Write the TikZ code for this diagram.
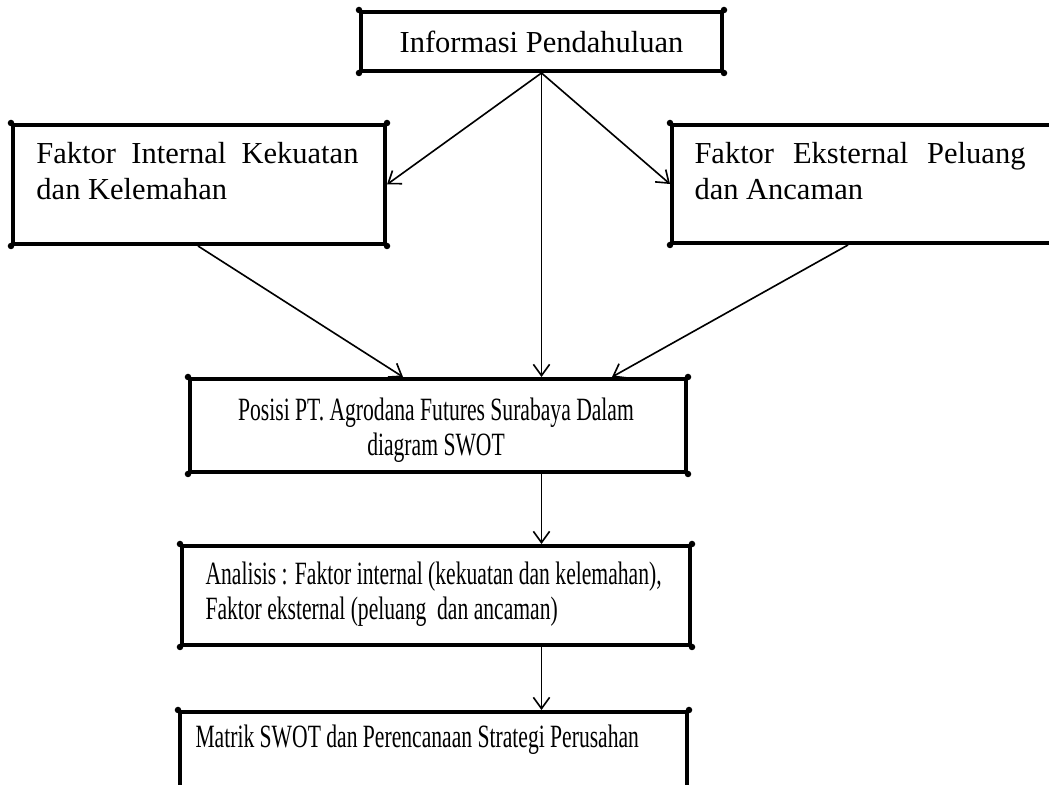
\documentclass[tikz,border=0pt]{standalone}
\usepackage{fontspec}
\setmainfont{Liberation Serif}
\newfontfamily\narrowfont[FakeStretch=0.665]{Liberation Serif}
\usetikzlibrary{arrows.meta}
\begin{document}
\begin{tikzpicture}[x=0.4pt,y=-0.4pt,
    box/.style={draw, line width=1.6pt, inner sep=0pt},
    txt/.style={inner sep=0pt, font=\fontsize{12.2}{14.5}\selectfont},
    narrow/.style={inner sep=0pt, font=\narrowfont\fontsize{13}{14}\selectfont},
    flow/.style={line width=0.65pt, -{Straight Barb[length=4.5pt,width=6.5pt]}}]
     \useasboundingbox (0,0) rectangle (1049,785);
     \clip (0,0) rectangle (1049,785);
     % boxes
     \node[box, minimum width=144.4pt, minimum height=23.6pt] (info) at (541.5,41.5) {};
     \node[box, minimum width=148.8pt, minimum height=47.6pt] (intern) at (199,184.5) {};
     \node[box, minimum width=160pt, minimum height=47.2pt] (extern) at (872,184) {};
     \node[box, minimum width=198.4pt, minimum height=37.2pt] (posisi) at (438,425.5) {};
     \node[box, minimum width=203.2pt, minimum height=39.6pt] (analisis) at (436,595.5) {};
     \node[box, minimum width=202.8pt, minimum height=47.2pt] (matrik) at (433.5,771) {};
     \foreach\b in{info,intern,extern,posisi,analisis,matrik}{
       \foreach\a in{north west,north east,south west,south east}{\fill (\b.\a) circle (1.3pt);}}
     % texts
     \node[txt] (info-t) at (info) {Informasi Pendahuluan};
     \node[txt, anchor=north west, text width=128.8pt, align=justify] (intern-t) at (36,142) {Faktor Internal Kekuatan dan Kelemahan};
     \node[txt, anchor=north west, text width=132.4pt, align=justify] (extern-t) at (694,142) {Faktor Eksternal Peluang dan Ancaman};
     \node[narrow, anchor=north, align=center] (posisi-t) at (436,397) {Posisi PT. Agrodana Futures Surabaya Dalam\\diagram SWOT};
     \node[narrow, anchor=north west, align=left] (analisis-t) at (205,561) {Analisis : Faktor internal (kekuatan dan kelemahan),\\Faktor eksternal (peluang\, dan ancaman)};
     \node[narrow, anchor=north west] (matrik-t) at (195,724) {Matrik SWOT dan Perencanaan Strategi Perusahan};
     % arrows
     \draw[flow] (info.south) -- (intern.east);
     \draw[flow] (info.south) -- (extern.west);
     \draw[flow] (info.south) -- (info.south |- posisi.north);
     \draw[flow] ([xshift=-0.4pt]intern.south) -- ([xshift=-14pt]posisi.north);
     \draw[flow] ([xshift=-9.6pt]extern.south) -- ([xshift=69.6pt]posisi.north);
     \draw[flow] (info.south |- posisi.south) -- (info.south |- analisis.north);
     \draw[flow] (info.south |- analisis.south) -- (info.south |- matrik.north);
\end{tikzpicture}
\end{document}
